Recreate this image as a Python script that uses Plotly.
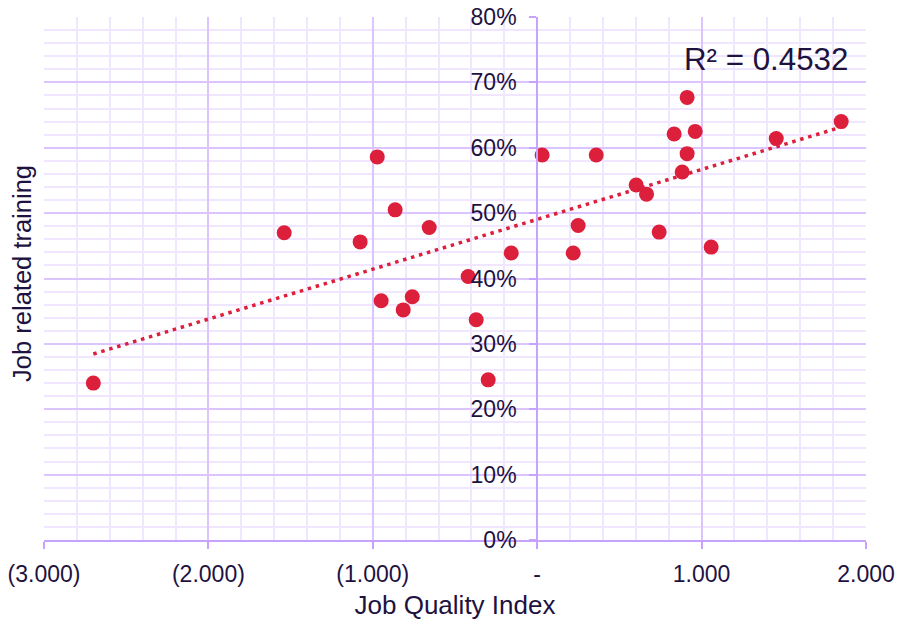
import plotly.graph_objects as go

# Data
job_quality_index = [-2.70, -1.539, -1.077, -0.973, -0.949, -0.864, -0.815, -0.760,
                     -0.657, -0.420, -0.371, -0.298, -0.158, 0.030, 0.219, 0.249,
                     0.359, 0.602, 0.665, 0.742, 0.833, 0.882, 0.912, 0.912,
                     0.961, 1.058, 1.454, 1.849]
job_related_training = [0.240, 0.470, 0.456, 0.586, 0.366, 0.505, 0.352, 0.372,
                        0.478, 0.403, 0.337, 0.245, 0.439, 0.589, 0.439, 0.481,
                        0.589, 0.543, 0.529, 0.471, 0.621, 0.563, 0.677, 0.591,
                        0.625, 0.448, 0.614, 0.640]

x_tick_vals = [-3, -2, -1, 0, 1, 2]
x_tick_text = ["(3.000)", "(2.000)", "(1.000)", "-", "1.000", "2.000"]
y_tick_vals = [0, 0.1, 0.2, 0.3, 0.4, 0.5, 0.6, 0.7, 0.8]
y_tick_text = ["0%", "10%", "20%", "30%", "40%", "50%", "60%", "70%", "80%"]
r2_label = "R² = 0.4532"

# Linear trendline coefficients
trend_slope = 0.0763
trend_intercept = 0.4905
trend_x = [min(job_quality_index), max(job_quality_index)]
trend_y = [trend_slope * v + trend_intercept for v in trend_x]

RED = "#DC1F3B"
TEXT = "#1E1241"
MAJOR = "#DCC4FF"
MINOR = "#F1E6FF"
AXIS = "#C8A2FF"
FONT = "Liberation Sans, Arial, sans-serif"

fig = go.Figure()
fig.add_trace(go.Scatter(
    x=trend_x, y=trend_y, mode="lines",
    line=dict(color=RED, width=3.5, dash="3.5px,4.8px"),
    hoverinfo="skip", showlegend=False,
))
fig.add_trace(go.Scatter(
    x=job_quality_index, y=job_related_training, mode="markers",
    marker=dict(color=RED, size=15, line=dict(width=0)),
    showlegend=False,
))

fig.update_layout(
    width=899, height=620,
    margin=dict(l=44, r=33, t=17, b=80),
    paper_bgcolor="white", plot_bgcolor="white",
    font=dict(family=FONT, color=TEXT, size=23),
    xaxis=dict(
        range=[-3, 2], tickvals=x_tick_vals, ticktext=x_tick_text,
        automargin=False,
        showgrid=True, gridcolor=MAJOR, gridwidth=2,
        minor=dict(dtick=0.2, showgrid=True, gridcolor=MINOR, gridwidth=2),
        showline=True, linecolor=AXIS, linewidth=2,
        ticks="outside", ticklen=7, tickcolor=AXIS, tickwidth=2,
        ticklabelstandoff=5,
        zeroline=False,
        tickfont=dict(size=23, color=TEXT, family=FONT),
        title=dict(text="Job Quality Index", font=dict(size=26, color=TEXT, family=FONT), standoff=10),
    ),
    yaxis=dict(
        range=[0, 0.8], tickvals=y_tick_vals, ticktext=y_tick_text,
        anchor="free", position=0.6, automargin=False,
        showgrid=True, gridcolor=MAJOR, gridwidth=2,
        minor=dict(dtick=0.02, showgrid=True, gridcolor=MINOR, gridwidth=2),
        showline=True, linecolor=AXIS, linewidth=2,
        ticks="outside", ticklen=7, tickcolor=AXIS, tickwidth=2,
        ticklabelstandoff=8,
        zeroline=False,
        tickfont=dict(size=23, color=TEXT, family=FONT),
    ),
    annotations=[
        dict(text="Job related training", xref="paper", yref="paper",
             x=-0.026, y=0.51, xanchor="center", yanchor="middle", textangle=-90,
             showarrow=False, font=dict(size=25.5, color=TEXT, family=FONT)),
        dict(text=r2_label, xref="x", yref="y", x=0.88, y=0.735,
             xanchor="left", yanchor="middle", showarrow=False,
             font=dict(size=31.3, color=TEXT, family=FONT)),
    ],
)

fig.write_html("out.html", config={"displayModeBar": False},
               post_script="document.body.style.margin='0px';")
